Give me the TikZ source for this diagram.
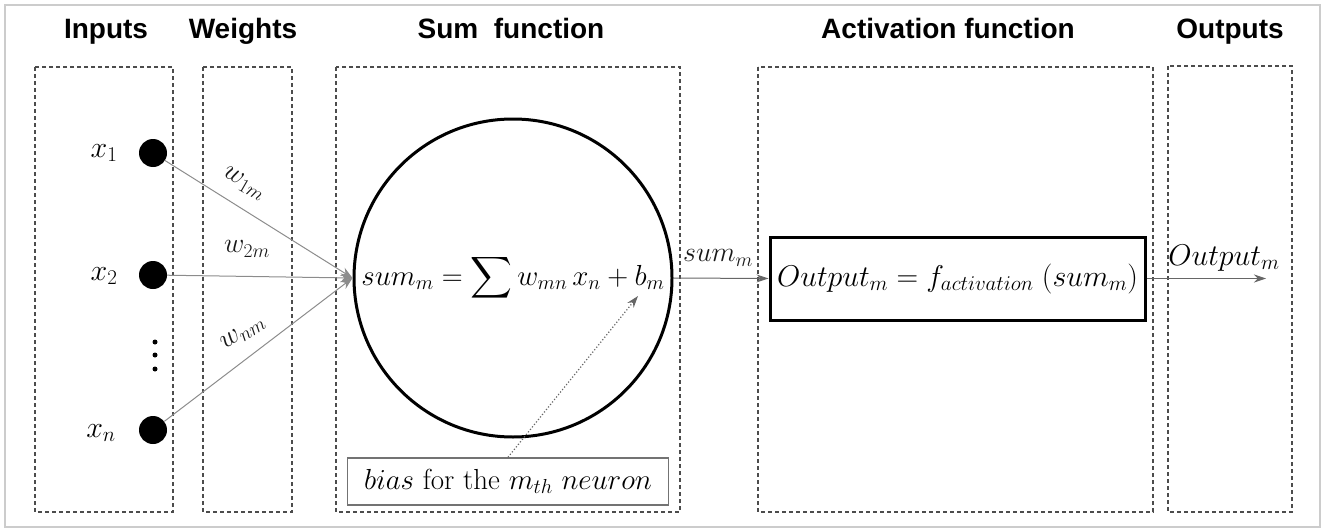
\RequirePackage{fix-cm}
\documentclass[tikz,border=0pt]{standalone}
\usepackage{fontspec}
\DeclareFontFamily{OMX}{cmex}{}
\DeclareFontShape{OMX}{cmex}{m}{n}{<-> cmex10}{}
\newfontfamily\titlefont{Liberation Sans}
\usetikzlibrary{arrows.meta}
\begin{document}
\begin{tikzpicture}[x=1pt,y=-1pt,
  group/.style={draw=black!70, dash pattern=on 4pt off 3pt, line width=1.5pt},
  title/.style={font=\titlefont\bfseries\fontsize{28}{32}\selectfont, anchor=base},
  inp/.style={circle, fill=black, minimum size=28pt, inner sep=0pt},
  lab/.style={font=\fontsize{30}{36}\selectfont},
  wlab/.style={font=\fontsize{28}{34}\selectfont, text=black!90},
  wconn/.style={draw=black!45, line width=1pt, -{Stealth[length=12pt,width=9pt]}},
  conn/.style={draw=black!60, line width=1pt, -{Stealth[length=12pt,width=8pt]}},
  vdot/.style={circle, fill=black, minimum size=5pt, inner sep=0pt},
]
\useasboundingbox (0,0) rectangle (1325,530);
\draw[black!20, line width=2pt] (5,5) rectangle (1320,527);

% titles
\node[title] (tin) at (106,38) {Inputs};
\node[title] (tw) at (243,38) {Weights};
\node[title] (ts) at (511,38) {Sum\ \ function};
\node[title] (ta) at (948,38) {Activation function};
\node[title] (to) at (1230,38) {Outputs};

% dashed groups
\draw[group] (35,67) rectangle (173,512);
\draw[group] (203,67) rectangle (292,512);
\draw[group] (336,67) rectangle (680,512);
\draw[group] (758,67) rectangle (1153,512);
\draw[group] (1168,66) rectangle (1292,512);

% inputs
\node[inp] (x1) at (153,153) {};
\node[inp] (x2) at (153,275) {};
\node[inp] (xn) at (153,430) {};
\node[lab] (lx1) at (104,153) {$x_1$};
\node[lab] (lx2) at (104,276) {$x_2$};
\node[lab] (lxn) at (101,433) {$x_n$};
\node[vdot] (d1) at (155,342) {};
\node[vdot] (d2) at (155,355) {};
\node[vdot] (d3) at (155,369) {};

% sum circle
\node[circle, draw, line width=3pt, minimum size=318pt, inner sep=0pt,
      font=\fontsize{29}{34}\selectfont] (sum) at (513,278)
      {$sum_m = \displaystyle\sum w_{mn}\, x_n + b_m$};

% weight connectors
\draw[wconn] (x1) -- (sum.west);
\draw[wconn] (x2) -- (sum.west);
\draw[wconn] (xn) -- (sum.west);
\node[wlab, rotate=-30] (w1) at (244,184) {$w_{1m}$};
\node[wlab] (w2) at (247,249) {$w_{2m}$};
\node[wlab, rotate=33] (wn) at (243,333) {$w_{nm}$};

% activation box
\node[draw, line width=3pt, minimum width=375pt, minimum height=83pt, inner sep=0pt,
      font=\fontsize{30}{36}\selectfont] (act) at (957.5,278.5)
      {$Output_m = f_{activation}\;(sum_m)$};
\draw[conn] (sum.east) -- (act.west);
\node[wlab] (lsum) at (718,258) {$sum_m$};

% output
\coordinate (oend) at (1266,278.5);
\draw[conn] (act.east) -- (oend);
\node[lab] (lout) at (1224,258) {$Output_m$};

% bias
\node[draw=black!55, line width=1.5pt, minimum width=321pt, minimum height=47pt, inner sep=0pt,
      font=\fontsize{29}{34}\selectfont] (bias) at (508,481.5)
      {$bias$ for the $m_{th}$ $neuron$};
\coordinate (btip) at (638,296);
\draw[draw=black!60, line width=1.2pt, dotted, -{Stealth[length=12pt,width=8pt]}] (bias.north) -- (btip);
\end{tikzpicture}
\end{document}
